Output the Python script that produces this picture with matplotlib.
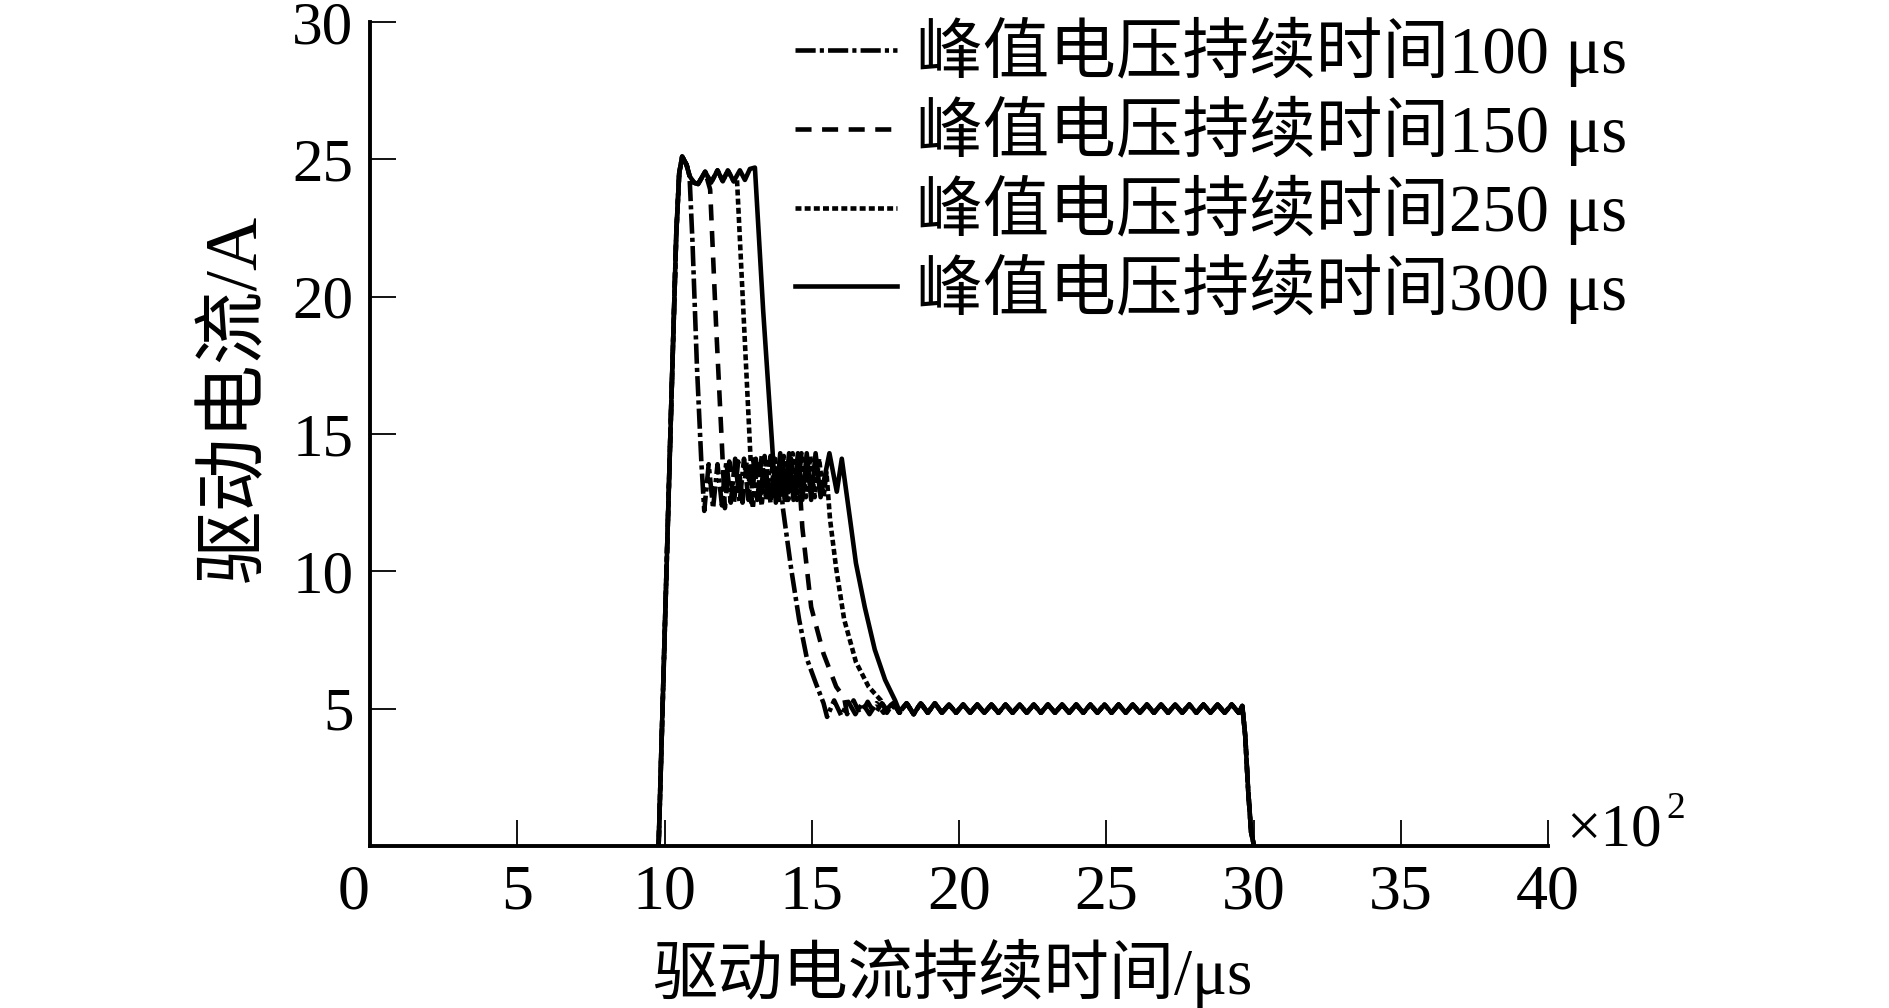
import matplotlib
matplotlib.use("Agg")
import matplotlib.pyplot as plt

# time in units of 100 us (axis shows x10^2), current in A
RISE_T = [9.8, 10.0, 10.2, 10.4, 10.5, 10.6, 10.75, 10.85]
RISE_Y = [0, 7.5, 15.0, 22.3, 24.5, 25.1, 24.8, 24.4]

# ripple on the 25 A peak (shared until each curve drops)
TOP_T = [11.0, 11.14, 11.38, 11.58, 11.8, 11.98, 12.15, 12.35, 12.56, 12.73, 12.9, 13.07]
TOP_Y = [24.15, 24.1, 24.55, 24.15, 24.6, 24.2, 24.6, 24.2, 24.6, 24.25, 24.65, 24.7]

# 5 A holding ripple, same for all curves
TAIL_T = [18.22, 18.46, 18.70, 18.94, 19.18, 19.42, 19.66, 19.90, 20.14, 20.38, 20.62, 20.86,
          21.10, 21.34, 21.58, 21.82, 22.06, 22.30, 22.54, 22.78, 23.02, 23.26, 23.50, 23.74,
          23.98, 24.22, 24.46, 24.70, 24.94, 25.18, 25.42, 25.66, 25.90, 26.14, 26.38, 26.62,
          26.86, 27.10, 27.34, 27.58, 27.82, 28.06, 28.30, 28.54, 28.78, 29.02, 29.26, 29.50,
          29.62, 29.72, 29.82, 29.92, 30.02]
TAIL_Y = [5.2, 4.8, 5.2, 4.85, 5.2, 4.85, 5.15, 4.85, 5.15, 4.85, 5.15, 4.85,
          5.15, 4.85, 5.15, 4.85, 5.15, 4.85, 5.15, 4.85, 5.15, 4.85, 5.15, 4.85,
          5.15, 4.85, 5.15, 4.85, 5.15, 4.85, 5.15, 4.85, 5.15, 4.85, 5.15, 4.85,
          5.15, 4.85, 5.15, 4.85, 5.15, 4.85, 5.15, 4.85, 5.15, 4.85, 5.15, 4.85,
          5.1, 4.0, 2.0, 0.5, 0.0]

# 100 us
c100_t = [10.95, 11.1, 11.25, 11.35,
          11.5, 11.65, 11.8, 11.95, 12.1, 12.25, 12.4, 12.55, 12.7, 12.85, 13.0, 13.15,
          13.3, 13.45, 13.6, 13.75, 13.9,
          14.02, 14.3, 14.57, 14.84, 15.13, 15.4,
          15.52, 15.76, 16.0, 16.24, 16.48, 16.72, 16.96, 17.2, 17.44, 17.7, 17.98]
c100_y = [22.0, 17.5, 14.0, 12.2,
          13.9, 12.3, 13.9, 12.4, 14.0, 12.5, 14.1, 12.5, 14.1, 12.6, 14.2, 12.6,
          14.2, 12.6, 14.2, 12.6, 13.8,
          12.3, 10.1, 8.25, 6.8, 5.95, 5.2,
          4.7, 5.3, 4.75, 5.25, 4.8, 5.2, 4.8, 5.2, 4.85, 5.15, 4.85]

# 150 us
c150_t = [11.55, 11.75, 11.95, 12.05,
          12.2, 12.35, 12.5, 12.65, 12.8, 12.95, 13.1, 13.25, 13.4, 13.55, 13.7, 13.85,
          14.0, 14.15, 14.3, 14.45,
          14.55, 14.68, 14.98, 15.4, 15.83, 16.1,
          16.2, 16.42, 16.66, 16.9, 17.14, 17.38, 17.62, 17.8, 17.98]
c150_y = [23.9, 19.0, 14.6, 12.3,
          14.0, 12.4, 14.0, 12.5, 14.1, 12.5, 14.1, 12.6, 14.2, 12.6, 14.2, 12.6,
          14.2, 12.6, 14.1, 12.6,
          13.8, 11.6, 8.7, 7.0, 5.8, 5.4,
          4.8, 5.3, 4.75, 5.25, 4.8, 5.2, 4.85, 5.15, 4.85]

# 250 us
c250_t = [12.46, 12.7, 12.9, 13.0,
          13.15, 13.3, 13.45, 13.6, 13.75, 13.9, 14.05, 14.2, 14.35, 14.5, 14.65, 14.8,
          14.95, 15.1, 15.25, 15.4,
          15.5, 15.62, 15.83, 16.1, 16.5, 16.93, 17.35,
          17.55, 17.76, 17.98]
c250_y = [24.3, 19.0, 14.6, 12.3,
          14.0, 12.4, 14.1, 12.5, 14.2, 12.6, 14.2, 12.6, 14.3, 12.6, 14.3, 12.7,
          14.2, 12.7, 14.1, 12.7,
          13.6, 11.9, 10.1, 8.25, 6.7, 5.8, 5.3,
          4.85, 5.2, 4.85]

# 300 us
c300_t = [13.35, 13.65, 13.78, 13.93, 14.08, 14.23, 14.38, 14.53, 14.68, 14.83, 14.98,
          15.13, 15.3, 15.6, 15.85, 16.02, 16.3, 16.5, 16.8, 17.14, 17.49, 17.83, 17.98]
c300_y = [19.5, 14.7, 12.5, 14.3, 12.6, 14.3, 12.6, 14.3, 12.6, 14.3, 12.6,
          14.3, 12.7, 14.3, 12.9, 14.1, 11.9, 10.3, 8.7, 7.15, 6.05, 5.3, 4.9]

labels = ['峰值电压持续时间100 μs', '峰值电压持续时间150 μs',
          '峰值电压持续时间250 μs', '峰值电压持续时间300 μs']
x_ticks = [0, 5, 10, 15, 20, 25, 30, 35, 40]
y_ticks = [5, 10, 15, 20, 25, 30]

curves = [
    (RISE_T + c100_t + TAIL_T, RISE_Y + c100_y + TAIL_Y),
    (RISE_T + TOP_T[:3] + c150_t + TAIL_T, RISE_Y + TOP_Y[:3] + c150_y + TAIL_Y),
    (RISE_T + TOP_T[:8] + c250_t + TAIL_T, RISE_Y + TOP_Y[:8] + c250_y + TAIL_Y),
    (RISE_T + TOP_T + c300_t + TAIL_T, RISE_Y + TOP_Y + c300_y + TAIL_Y),
]
styles = [(0, (4.4, 0.9, 0.9, 0.9)), (0, (3.5, 2.3)), (0, (1.3, 0.7)), '-']
widths = [3.3, 3.3, 3.3, 3.3]

serif = 'Liberation Serif'
mixed = ['Liberation Serif', 'Noto Sans CJK SC']

fig = plt.figure(figsize=(18.89, 10.08), dpi=100)
ax = fig.add_axes([370 / 1889, 1 - 846 / 1008, 1178 / 1889, 824 / 1008])

for (t, y), ls, lw, lab in zip(curves, styles, widths, labels):
    ax.plot(t, y, color='black', linestyle=ls, linewidth=lw, label=lab)

ax.set_xlim(0, 40)
ax.set_ylim(0, 30)
ax.set_xticks(x_ticks)
ax.set_yticks(y_ticks)
ax.set_xticklabels([str(v) for v in x_ticks], fontfamily=serif, fontsize=46)
ax.set_yticklabels([str(v) for v in y_ticks], fontfamily=serif, fontsize=44)
ax.get_xticklabels()[0].set_horizontalalignment('right')

for s in ['top', 'right']:
    ax.spines[s].set_visible(False)
for s in ['left', 'bottom']:
    ax.spines[s].set_linewidth(2.8)
ax.tick_params(axis='both', direction='in', length=19, width=1.3, color='black')
ax.tick_params(axis='x', pad=13)
ax.tick_params(axis='y', pad=12)

ax.set_xlabel('驱动电流持续时间/μs', fontfamily=mixed, fontsize=47)
ax.xaxis.set_label_coords(0.494, -0.113)
ax.set_ylabel('驱动电流/A', fontfamily=mixed, fontsize=53)
ax.yaxis.set_label_coords(-0.084, 0.544)

fig.text(1566 / 1889, 1 - 845 / 1008, '×10', fontfamily=serif, fontsize=44,
         ha='left', va='baseline')
fig.text(1666 / 1889, 1 - 818 / 1008, '2', fontfamily=serif, fontsize=27,
         ha='left', va='baseline')

ax.legend(loc='upper left', bbox_to_anchor=(795 / 1889, 1 - 17 / 1008),
          bbox_transform=fig.transFigure, frameon=False, borderpad=0,
          borderaxespad=0, handlelength=1.53, handletextpad=0.29,
          labelspacing=0.13, prop={'family': mixed, 'size': 48})

fig.savefig('out.png', dpi=100)
